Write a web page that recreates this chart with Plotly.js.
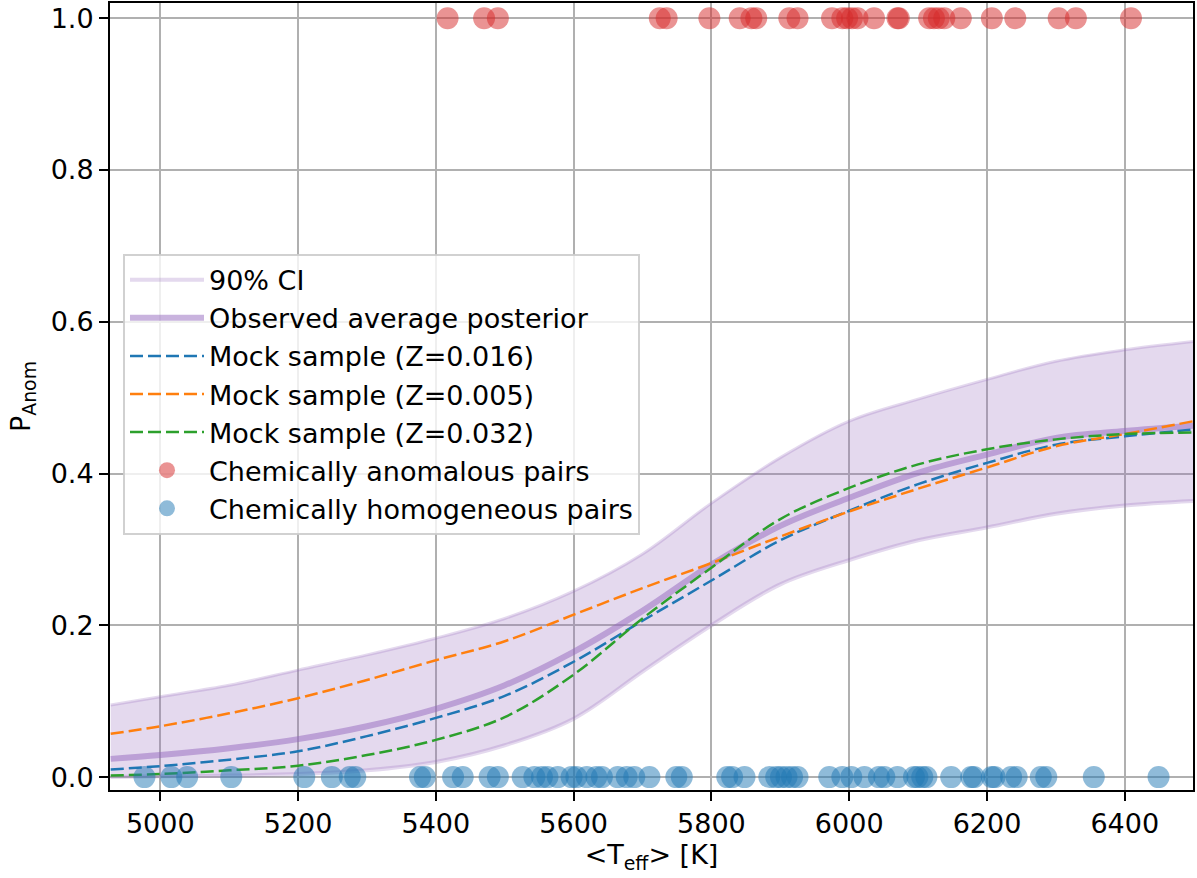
<!DOCTYPE html>
<html>
<head>
<meta charset="utf-8">
<script src="https://cdn.plot.ly/plotly-3.0.1.min.js"></script>
<style>html,body{margin:0;padding:0;background:#fff;}#chart{width:1197px;height:878px;}</style>
</head>
<body>
<div id="chart"></div>
<script>
// Curve sampling temperatures
const teffGrid = [4928, 5000, 5100, 5200, 5300, 5400, 5500, 5600, 5700, 5800, 5900, 6000, 6100, 6200, 6300, 6400, 6500];
const ciUpper   = [0.095, 0.106, 0.121, 0.141, 0.161, 0.183, 0.209, 0.245, 0.294, 0.361, 0.421, 0.469, 0.498, 0.524, 0.548, 0.563, 0.574];
const ciLower   = [0.000, 0.001, 0.002, 0.004, 0.009, 0.020, 0.042, 0.077, 0.139, 0.200, 0.254, 0.286, 0.312, 0.329, 0.347, 0.358, 0.364];
const posterior = [0.024, 0.029, 0.038, 0.050, 0.067, 0.090, 0.121, 0.165, 0.219, 0.280, 0.331, 0.368, 0.401, 0.425, 0.447, 0.456, 0.463];
const mockZ016  = [0.010, 0.0145, 0.023, 0.034, 0.054, 0.078, 0.107, 0.152, 0.206, 0.259, 0.312, 0.351, 0.386, 0.414, 0.438, 0.449, 0.458];
const mockZ005  = [0.057, 0.067, 0.084, 0.104, 0.128, 0.154, 0.179, 0.214, 0.249, 0.282, 0.317, 0.350, 0.380, 0.408, 0.436, 0.452, 0.469];
const mockZ032  = [0.002, 0.004, 0.009, 0.015, 0.029, 0.049, 0.079, 0.135, 0.209, 0.276, 0.340, 0.381, 0.412, 0.432, 0.445, 0.452, 0.454];

// Pair temperatures
const anomalousTeff = [5417, 5470, 5490, 5725, 5735, 5797, 5841, 5858, 5865, 5913, 5925, 5975, 5990, 5997, 6004, 6012, 6036, 6070, 6072, 6116, 6123, 6130, 6138, 6162, 6207, 6241, 6304, 6329, 6409];
const homogeneousTeff = [4977, 5016, 5039, 5103, 5209, 5249, 5275, 5283, 5377, 5384, 5425, 5439, 5478, 5490, 5526, 5543, 5554, 5562, 5577, 5597, 5604, 5619, 5633, 5641, 5664, 5677, 5688, 5710, 5749, 5757, 5823, 5830, 5848, 5884, 5894, 5901, 5909, 5917, 5925, 5971, 5990, 6003, 6022, 6043, 6051, 6070, 6094, 6099, 6106, 6112, 6148, 6177, 6181, 6207, 6211, 6235, 6243, 6278, 6286, 6355, 6449];
const anomalousP = anomalousTeff.map(() => 1);
const homogeneousP = homogeneousTeff.map(() => 0);

const xTicks = [5000, 5200, 5400, 5600, 5800, 6000, 6200, 6400];
const yTicks = [0.0, 0.2, 0.4, 0.6, 0.8, 1.0];

const purpleBand = 'rgba(148,103,189,0.25)';
const purpleLine = 'rgba(148,103,189,0.5)';
const dash = '13px,5px';
const FS = 27;
const SM = 1.0;

const traces = [
  {x: teffGrid, y: ciLower, mode: 'lines', name: '90% CI', legendgroup: 'a',
   line: {color: purpleBand, width: 4, shape: 'spline', smoothing: SM}},
  {x: teffGrid, y: ciUpper, mode: 'lines', fill: 'tonexty', fillcolor: purpleBand, showlegend: false, legendgroup: 'a',
   line: {color: purpleBand, width: 3, shape: 'spline', smoothing: SM}},
  {x: teffGrid, y: posterior, mode: 'lines', name: 'Observed average posterior', legendgroup: 'b',
   line: {color: purpleLine, width: 6, shape: 'spline', smoothing: SM}},
  {x: teffGrid, y: mockZ016, mode: 'lines', name: 'Mock sample (Z=0.016)', legendgroup: 'c',
   line: {color: '#1f77b4', width: 2.5, dash: dash, shape: 'spline', smoothing: SM}},
  {x: teffGrid, y: mockZ005, mode: 'lines', name: 'Mock sample (Z=0.005)', legendgroup: 'd',
   line: {color: '#ff7f0e', width: 2.5, dash: dash, shape: 'spline', smoothing: SM}},
  {x: teffGrid, y: mockZ032, mode: 'lines', name: 'Mock sample (Z=0.032)', legendgroup: 'e',
   line: {color: '#2ca02c', width: 2.5, dash: dash, shape: 'spline', smoothing: SM}},
  {x: anomalousTeff, y: anomalousP, mode: 'markers', name: 'Chemically anomalous pairs', legendgroup: 'f',
   marker: {color: 'rgba(214,39,40,0.5)', size: 22, line: {width: 0}}},
  {x: homogeneousTeff, y: homogeneousP, mode: 'markers', name: 'Chemically homogeneous pairs', legendgroup: 'g',
   marker: {color: 'rgba(31,119,180,0.5)', size: 22, line: {width: 0}}}
];

const axisCommon = {
  showline: true, mirror: true, linecolor: '#000', linewidth: 2,
  ticks: 'outside', ticklen: 9, tickwidth: 2, tickcolor: '#000',
  showgrid: true, gridcolor: '#b0b0b0', gridwidth: 2, zeroline: false,
  tickfont: {family: 'DejaVu Sans', size: FS, color: '#000'}
};

const layout = {
  width: 1197, height: 878,
  margin: {l: 110, r: 4, t: 3, b: 88},
  paper_bgcolor: '#fff', plot_bgcolor: '#fff',
  font: {family: 'DejaVu Sans', size: FS, color: '#000'},
  showlegend: true,
  xaxis: Object.assign({}, axisCommon, {
    range: [4927, 6499], tickvals: xTicks, ticktext: xTicks.map(String),
    title: {text: '&lt;T<sub>eff</sub>&gt; [K]', font: {family: 'DejaVu Sans', size: FS, color: '#000'}, standoff: 6}
  }),
  yaxis: Object.assign({}, axisCommon, {
    range: [-0.017, 1.02], tickvals: yTicks, ticktext: yTicks.map(v => v.toFixed(1)),
    title: {text: 'P<sub>Anom</sub>', font: {family: 'DejaVu Sans', size: FS, color: '#000'}, standoff: 12}
  }),
  legend: {
    x: 0.012, y: 0.6815, xanchor: 'left', yanchor: 'top',
    bgcolor: 'rgba(255,255,255,0.8)', bordercolor: 'rgba(204,204,204,0.9)', borderwidth: 2,
    font: {family: 'DejaVu Sans', size: FS, color: '#000'},
    tracegroupgap: 7, itemwidth: 74, traceorder: 'normal'
  }
};

Plotly.newPlot('chart', traces, layout, {displayModeBar: false, staticPlot: true});
</script>
</body>
</html>
